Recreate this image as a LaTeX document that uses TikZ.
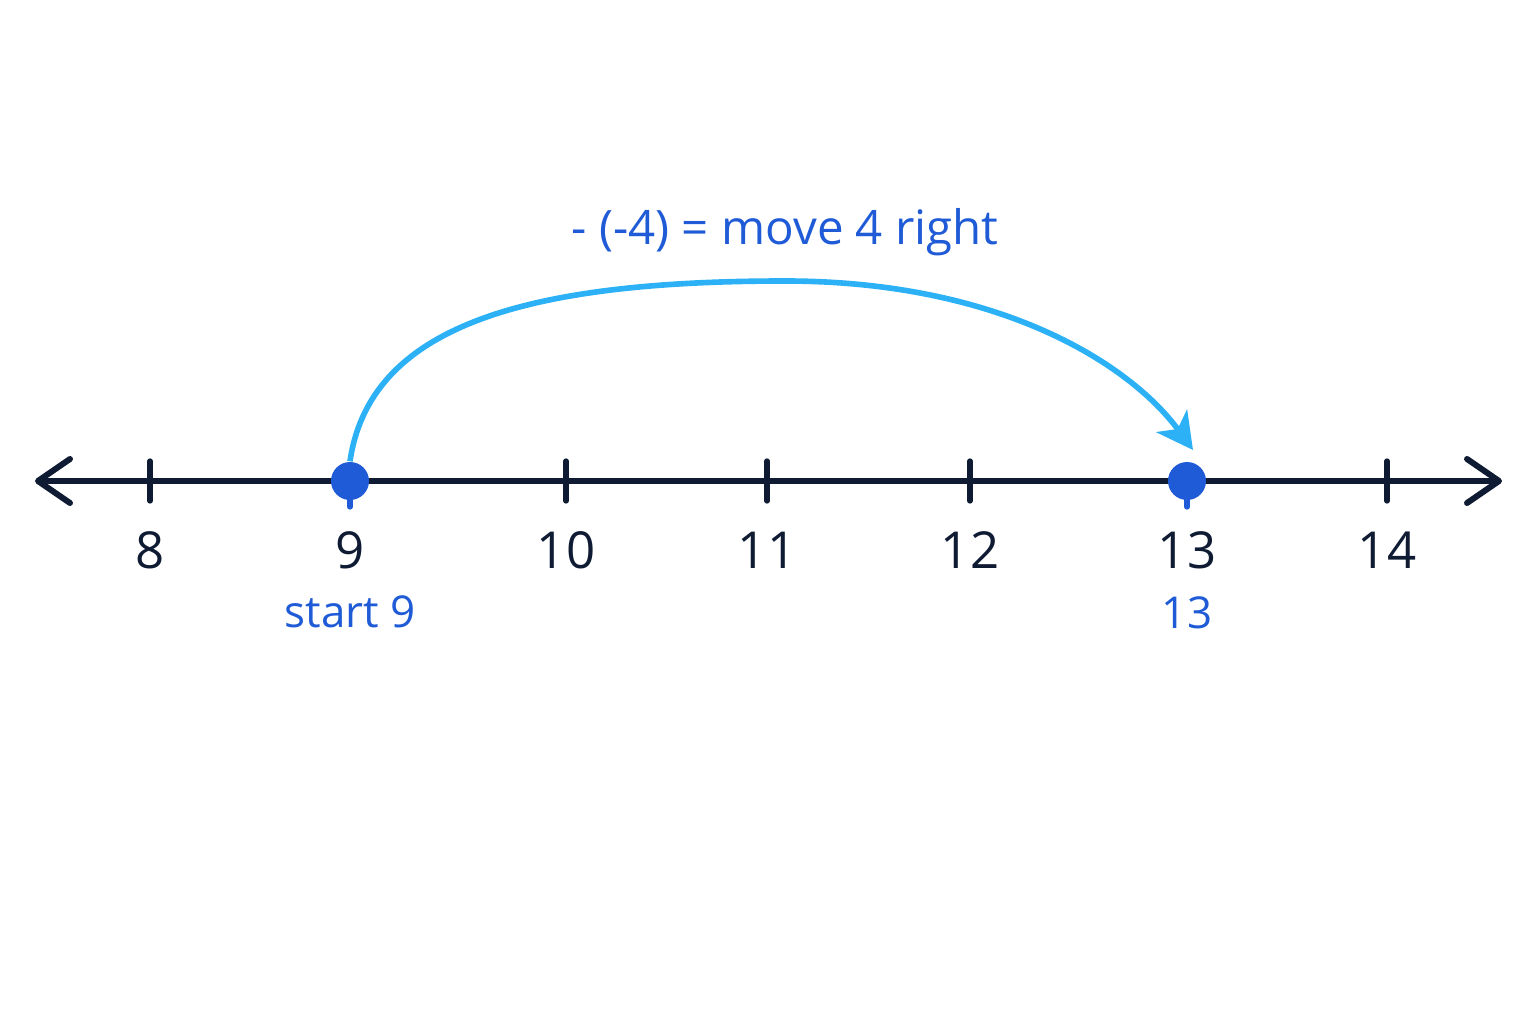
\documentclass[tikz,border=0pt]{standalone}
\usepackage{fontspec}
\setmainfont{Open Sans}
\usepackage{xcolor}
\usepackage{tikz}
\usetikzlibrary{arrows.meta}
\definecolor{axisnavy}{HTML}{0F1B33}
\definecolor{dotblue}{HTML}{1F5BD6}
\definecolor{jumpblue}{HTML}{2DB1F6}
\tikzset{
	axis line/.style={draw=axisnavy,line width=1.7pt,line cap=round},
	tick mark/.style={draw=axisnavy,line width=1.5pt,line cap=round},
	num label/.style={text=axisnavy,font=\fontsize{14.5}{16}\selectfont},
	blue label/.style={text=dotblue,font=\fontsize{12.5}{14}\selectfont},
	dot node/.style={circle,fill=dotblue,inner sep=0pt,minimum size=0.38cm}
}
\begin{document}
\begin{tikzpicture}[x=1cm,y=1cm]
		    \useasboundingbox (0,0) rectangle (15.36,10.24);
		    \coordinate (left) at (0.35,5.43);
		    \coordinate (right) at (15.02,5.43);
		    \draw [axis line,{Straight Barb[length=3.2mm,width=4.4mm,round]}-{Straight Barb[length=3.2mm,width=4.4mm,round]}] (left) -- (right);
		    % ticks and numbers
		    \foreach \x/\n in {1.50/8,5.66/10,7.67/11,9.70/12,13.87/14}{
		      \draw [tick mark] (\x,5.63) -- (\x,5.23);
		      \node [num label] (n\n) at (\x,4.74) {\n};
		    }
		    \foreach \x/\n in {3.50/9,11.87/13}{
		      \draw [tick mark,draw=dotblue] (\x,5.43) -- (\x,5.17);
		      \node [num label] (n\n) at (\x,4.74) {\n};
		    }
		    \node [dot node] (start) at (3.50,5.43) {};
		    \node [dot node] (end) at (11.87,5.43) {};
		    \node [blue label] (startlab) at (3.50,4.12) {start 9};
		    \node [blue label] (endlab) at (11.87,4.11) {13};
		    % the jump
		    \coordinate (tip) at (11.93,5.74);
		    \draw [draw=jumpblue,line width=1.6pt,-{Stealth[length=3.6mm,width=3.8mm,inset=1mm]}]
		      (start.north) .. controls (3.7,7.0) and (5.3,7.43) .. (7.85,7.43)
		      .. controls (10.0,7.43) and (11.3,6.6) .. (tip);
		    \node [text=dotblue,font=\fontsize{13.5}{15}\selectfont] (rule) at (7.85,7.92) {- (-4) = move 4 right};
		  \end{tikzpicture}
\end{document}
